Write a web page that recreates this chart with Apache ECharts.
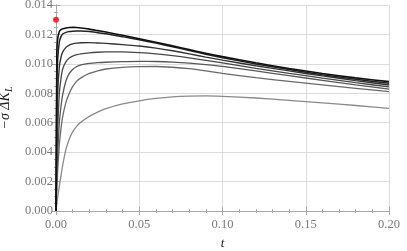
<!DOCTYPE html>
<html><head><meta charset="utf-8">
<script src="https://cdn.jsdelivr.net/npm/echarts@6/dist/echarts.min.js"></script>
<style>html,body{margin:0;padding:0;background:#fff}#c{width:407px;height:251px}</style>
</head><body><div id="c"></div>
<script>
const tValues = [0, 0.0005, 0.001, 0.002, 0.003, 0.004, 0.006, 0.008, 0.01, 0.0125, 0.015, 0.02, 0.025, 0.03, 0.04, 0.05, 0.06, 0.07, 0.08, 0.09, 0.1, 0.12, 0.14, 0.16, 0.18, 0.2];
const curve1 = [0, 0.0108, 0.0117, 0.0122, 0.01232, 0.01238, 0.01244, 0.01247, 0.01248, 0.01247, 0.01244, 0.01236, 0.01226, 0.01216, 0.01194, 0.01171, 0.01147, 0.01122, 0.01097, 0.01072, 0.01049, 0.01007, 0.00969, 0.00935, 0.00905, 0.00879];
const curve2 = [0, 0.0085, 0.0103, 0.0115, 0.01185, 0.01203, 0.01214, 0.0122, 0.01222, 0.01223, 0.01223, 0.0122, 0.01212, 0.01204, 0.01185, 0.01164, 0.01141, 0.01116, 0.01091, 0.01066, 0.01042, 0.00999, 0.00961, 0.00926, 0.00896, 0.00868];
const curve3 = [0, 0.0055, 0.0080, 0.0098, 0.01045, 0.0108, 0.01112, 0.01128, 0.01136, 0.01141, 0.01143, 0.01144, 0.01142, 0.01139, 0.01131, 0.01121, 0.01107, 0.01089, 0.01068, 0.01046, 0.01025, 0.00987, 0.00952, 0.00918, 0.00886, 0.00856];
const curve4 = [0, 0.0035, 0.0055, 0.0080, 0.0090, 0.00965, 0.01015, 0.0104, 0.01053, 0.01062, 0.01068, 0.01075, 0.01079, 0.01081, 0.01081, 0.01076, 0.01068, 0.01056, 0.01041, 0.01024, 0.01007, 0.0097, 0.00936, 0.00903, 0.00872, 0.00843];
const curve5 = [0, 0.0022, 0.0038, 0.0060, 0.0071, 0.0079, 0.00885, 0.00935, 0.00962, 0.00982, 0.00993, 0.01003, 0.01008, 0.01011, 0.01015, 0.01017, 0.01016, 0.01012, 0.01005, 0.00995, 0.00983, 0.00952, 0.0092, 0.00888, 0.00857, 0.00828];
const curve6 = [0, 0.0015, 0.0027, 0.0045, 0.0056, 0.0064, 0.0074, 0.008, 0.00845, 0.00883, 0.00905, 0.00935, 0.00953, 0.00965, 0.00976, 0.00981, 0.00982, 0.00977, 0.00967, 0.00952, 0.00935, 0.00906, 0.00881, 0.00857, 0.00834, 0.00811];
const curve7 = [0, 0.0005, 0.0009, 0.0017, 0.0024, 0.0031, 0.0042, 0.0049, 0.00538, 0.00577, 0.00604, 0.00643, 0.00672, 0.00696, 0.00728, 0.00749, 0.00765, 0.00776, 0.00781, 0.00782, 0.00779, 0.00768, 0.00752, 0.00735, 0.00717, 0.00698];
const redPoint = [[0, 0.013]];
const xTicks = [0, 0.05, 0.1, 0.15, 0.2];
const yTicks = [0, 0.002, 0.004, 0.006, 0.008, 0.01, 0.012, 0.014];

const curves = [curve1, curve2, curve3, curve4, curve5, curve6, curve7];
const colors = ['#111111', '#222222', '#333333', '#474747', '#585858', '#6a6a6a', '#8a8a8a'];
const widths = [1.6, 1.5, 1.4, 1.3, 1.3, 1.3, 1.3];

const font = 'Liberation Serif';
const labelStyle = {color: '#7a7a7a', fontFamily: font, fontSize: 12.5};
const frame = {show: true, lineStyle: {color: '#a8a8a8', width: 1}};

const chart = echarts.init(document.getElementById('c'), null, {renderer: 'canvas'});
const series = curves.map((c, i) => ({
  type: 'line', data: tValues.map((t, k) => [t, c[k]]), showSymbol: false, smooth: 0.2,
  lineStyle: {color: colors[i], width: widths[i]}, z: 10 - i, animation: false
}));
series.push({type: 'scatter', data: redPoint, symbolSize: 6, itemStyle: {color: '#ff0000'}, clip: false, z: 20, animation: false});

chart.setOption({
  animation: false,
  grid: {left: 56, right: 18, top: 5, bottom: 40, containLabel: false, outerBoundsMode: 'none'},
  xAxis: [{
    type: 'value', min: 0, max: 0.2, interval: 0.05, position: 'bottom',
    name: 't', nameLocation: 'middle', nameGap: 26,
    nameTextStyle: {fontFamily: font, fontStyle: 'italic', fontSize: 13, color: '#222'},
    axisLine: frame, axisTick: {show: true, inside: true, length: 4, lineStyle: {color: '#a8a8a8'}},
    minorTick: {show: true, splitNumber: 5, length: 2, lineStyle: {color: '#a8a8a8'}},
    splitLine: {show: true, lineStyle: {color: '#dcdcdc', width: 1}},
    axisLabel: Object.assign({margin: 7, formatter: v => xTicks.includes(+v.toFixed(2)) ? v.toFixed(2) : ''}, labelStyle)
  }, {
    type: 'value', min: 0, max: 0.2, interval: 0.05, position: 'top',
    axisLine: frame, axisTick: {show: true, inside: true, length: 4, lineStyle: {color: '#a8a8a8'}},
    minorTick: {show: true, splitNumber: 5, length: 2, lineStyle: {color: '#a8a8a8'}},
    splitLine: {show: false}, axisLabel: {show: false}
  }],
  yAxis: [{
    type: 'value', min: 0, max: 0.014, interval: 0.002, position: 'left',
    name: '{a|−σ ΔK}{b|L}', nameLocation: 'middle', nameGap: 37, nameRotate: 90,
    nameTextStyle: {rich: {
      a: {fontFamily: font, fontStyle: 'italic', fontSize: 14, color: '#222'},
      b: {fontFamily: font, fontStyle: 'italic', fontSize: 10, color: '#222', padding: [7, 0, 0, 0]}
    }},
    axisLine: frame, axisTick: {show: true, inside: true, length: 4, lineStyle: {color: '#a8a8a8'}},
    minorTick: {show: true, splitNumber: 4, length: 2, lineStyle: {color: '#a8a8a8'}},
    splitLine: {show: true, lineStyle: {color: '#dcdcdc', width: 1}},
    axisLabel: Object.assign({margin: 3, formatter: v => yTicks.includes(+v.toFixed(3)) ? v.toFixed(3) : ''}, labelStyle)
  }, {
    type: 'value', min: 0, max: 0.014, interval: 0.002, position: 'right',
    axisLine: frame, axisTick: {show: true, inside: true, length: 4, lineStyle: {color: '#a8a8a8'}},
    minorTick: {show: true, splitNumber: 4, length: 2, lineStyle: {color: '#a8a8a8'}},
    splitLine: {show: false}, axisLabel: {show: false}
  }],
  series: series
});
</script></body></html>
